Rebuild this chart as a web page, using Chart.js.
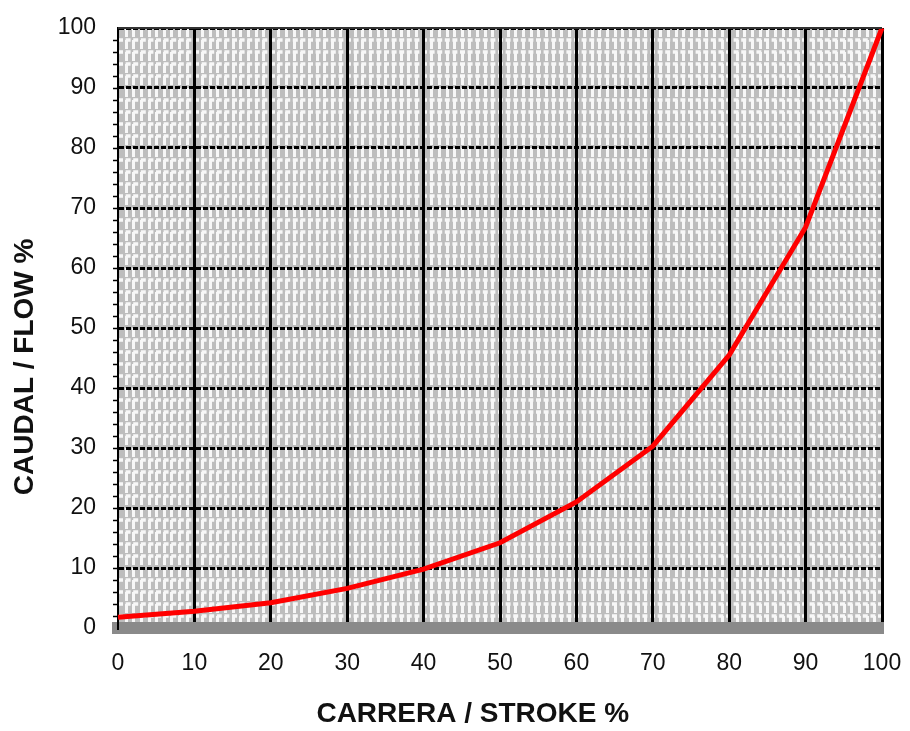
<!DOCTYPE html>
<html>
<head>
<meta charset="utf-8">
<script src="https://cdn.jsdelivr.net/npm/chart.js@4.4.0/dist/chart.umd.min.js"></script>
<style>
  html, body { margin: 0; padding: 0; background: #fff; }
  #wrap { width: 910px; height: 731px; }
</style>
</head>
<body>
<div id="wrap"><canvas id="flow"></canvas></div>
<script>
const stroke = [0, 10, 20, 30, 40, 50, 60, 70, 80, 90, 100]
const flow = [1.8, 2.8, 4.2, 6.6, 9.8, 14.2, 21, 30.3, 45.5, 66.8, 100]

// trailing spaces nudge the centred titles the way the original sits
const xTitle = 'CARRERA / STROKE %       '
const yTitle = 'CAUDAL / FLOW %          '

// grey paper with white dashed minor lines, drawn before the major grid
const paper = {
    id: 'paper',
    beforeDraw(chart) {
        const { ctx, chartArea: a, scales: { x, y } } = chart
        ctx.save()
        ctx.fillStyle = '#bdbdbd'
        ctx.fillRect(a.left, a.top, a.right - a.left, a.bottom - a.top)
        ctx.strokeStyle = '#f7f7f7'
        ctx.lineWidth = 3
        ctx.setLineDash([9, 3])
        for (let v = 1; v < 100; v++) {
            if (v % 10 === 0) continue
            const px = Math.round(x.getPixelForValue(v)) + 0.5
            ctx.beginPath()
            ctx.moveTo(px, a.top)
            ctx.lineTo(px, a.bottom)
            ctx.stroke()
        }
        ctx.lineWidth = 3.5
        ctx.setLineDash([5, 2.6])
        for (let v = 2; v < 100; v += 2) {
            if (v % 10 === 0) continue
            const py = Math.round(y.getPixelForValue(v))
            ctx.beginPath()
            ctx.moveTo(a.left, py)
            ctx.lineTo(a.right, py)
            ctx.stroke()
        }
        ctx.restore()
    },
    afterDraw(chart) {
        const { ctx, chartArea: a, scales: { y } } = chart
        ctx.save()
        ctx.strokeStyle = '#333'
        ctx.lineWidth = 2
        ctx.beginPath()
        ctx.moveTo(a.left, a.top)
        ctx.lineTo(a.right, a.top)
        ctx.stroke()
        ctx.strokeStyle = '#000'
        ctx.lineWidth = 1.5
        for (let v = 2; v < 100; v += 2) {
            const py = Math.round(y.getPixelForValue(v)) + 0.5
            ctx.beginPath()
            ctx.moveTo(a.left - 5, py)
            ctx.lineTo(a.left, py)
            ctx.stroke()
        }
        ctx.restore()
    }
}

const tickFont = { family: 'Liberation Sans, Arial', size: 23 }
const titleFont = { family: 'Liberation Sans, Arial', size: 28, weight: 'bold' }

new Chart(document.getElementById('flow'), {
    type: 'line',
    data: {
        datasets: [{
            data: stroke.map((s, i) => ({ x: s, y: flow[i] })),
            borderColor: '#ff0000',
            borderWidth: 5,
            pointRadius: 0,
            tension: 0,
            fill: false,
            clip: false
        }]
    },
    options: {
        responsive: true,
        maintainAspectRatio: false,
        animation: false,
        layout: { padding: { top: 28, right: 28, left: 0, bottom: 0 } },
        plugins: {
            legend: { display: false },
            tooltip: { enabled: false }
        },
        scales: {
            x: {
                type: 'linear',
                min: 0,
                max: 100,
                afterFit(scale) {
                    scale.height = 103
                    scale.paddingLeft = 0
                    scale.paddingRight = 0
                },
                ticks: { stepSize: 10, padding: 22, color: '#111', font: tickFont },
                grid: {
                    color: ctx => ctx.tick && ctx.tick.value === 0 ? 'rgba(0,0,0,0)' : '#000',
                    lineWidth: 3,
                    drawTicks: false
                },
                border: { display: true, color: '#8a8a8a', width: 12 },
                title: {
                    display: true,
                    text: xTitle,
                    color: '#111',
                    padding: { top: 0, bottom: 0 },
                    font: titleFont
                }
            },
            y: {
                min: 0,
                max: 100,
                afterFit(scale) {
                    scale.width = 118
                    scale.paddingTop = 0
                    scale.paddingBottom = 0
                },
                ticks: { stepSize: 10, padding: 22, color: '#111', font: tickFont },
                grid: {
                    color: ctx => ctx.tick && ctx.tick.value === 0 ? 'rgba(0,0,0,0)' : '#000',
                    lineWidth: 3,
                    drawTicks: false
                },
                border: { display: true, color: '#000', width: 2, dash: [5, 2] },
                title: {
                    display: true,
                    text: yTitle,
                    color: '#111',
                    padding: { top: 8, bottom: 0 },
                    font: titleFont
                }
            }
        }
    },
    plugins: [paper]
})
</script>
</body>
</html>
